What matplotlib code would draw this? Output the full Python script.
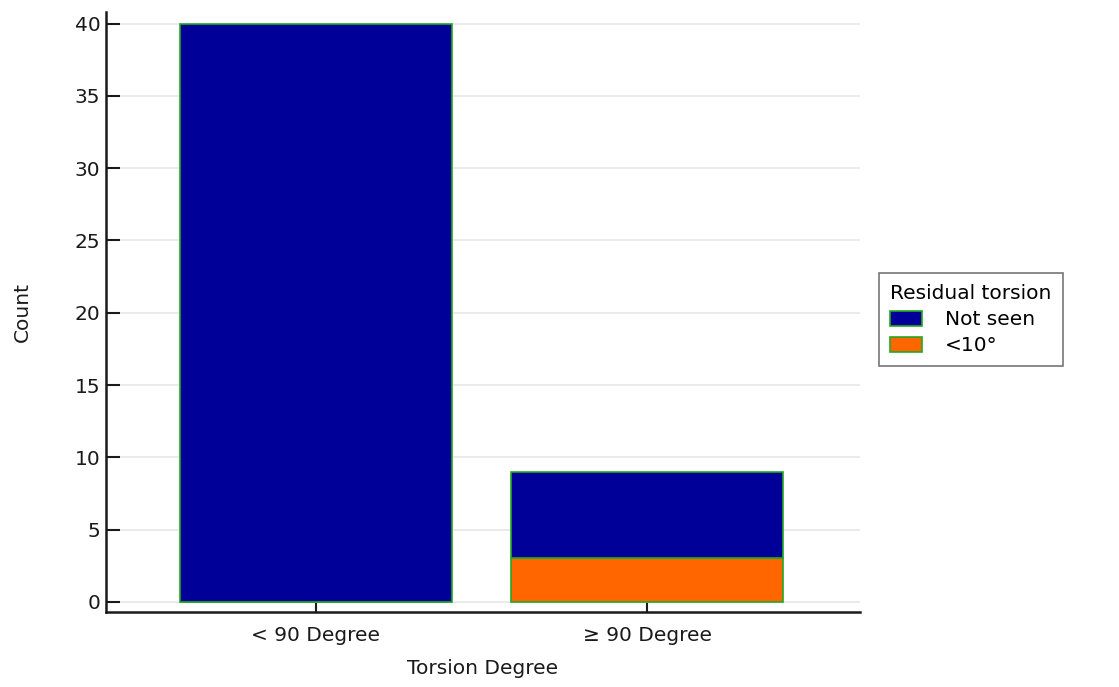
import matplotlib
matplotlib.use("Agg")
import matplotlib.pyplot as plt

categories = ["< 90 Degree", "≥ 90 Degree"]
not_seen = [40, 6]
lt10 = [0, 3]
series_names = ["Not seen", "<10°"]
colors = ["#000099", "#ff6600"]
yticks = [0, 5, 10, 15, 20, 25, 30, 35, 40]

plt.rcParams['font.family'] = ['DejaVu Sans']
FS = 14.5
fig = plt.figure(figsize=(11.19, 6.87), dpi=100)
ax = fig.add_axes([0.0947, 0.1092, 0.6738, 0.8733])

x = list(range(len(categories)))
w = 0.82
ax.bar(x, lt10, width=w, color=colors[1], edgecolor="#22aa22", linewidth=1.2, label=series_names[1], zorder=3)
ax.bar(x, not_seen, width=w, bottom=lt10, color=colors[0], edgecolor="#22aa22", linewidth=1.2, label=series_names[0], zorder=3)

ax.set_xlim(-0.634, 1.643)
ax.set_ylim(-0.7, 40.8)
ax.set_xticks(x)
ax.set_xticklabels(categories)
ax.set_yticks(yticks)
ax.yaxis.grid(True, color="#e6e6e6", linewidth=1.2, zorder=0)
ax.set_axisbelow(True)
for s in ["top", "right"]:
    ax.spines[s].set_visible(False)
for s in ["left", "bottom"]:
    ax.spines[s].set_linewidth(1.8)
    ax.spines[s].set_color("#1a1a1a")
ax.tick_params(direction="in", length=10, width=1.5, labelsize=FS, colors="#1a1a1a", pad=4)
ax.tick_params(axis='x', length=7, pad=10)
ax.set_xlabel("Torsion Degree", fontsize=FS, labelpad=10, color="#1a1a1a")
ax.set_ylabel("Count", fontsize=FS, labelpad=31, color="#1a1a1a")

handles, labels = ax.get_legend_handles_labels()
leg = ax.legend(handles[::-1], labels[::-1], title="Residual torsion", loc="center left",
                bbox_to_anchor=(1.012, 0.487), fontsize=FS, title_fontsize=FS,
                frameon=True, fancybox=False, edgecolor="#555555", borderpad=0.55,
                handlelength=1.6, handleheight=0.8, labelspacing=0.35, handletextpad=1.1)
leg._legend_box.align = "left"
leg.get_frame().set_linewidth(1.2)

fig.savefig("out.png", dpi=100)
